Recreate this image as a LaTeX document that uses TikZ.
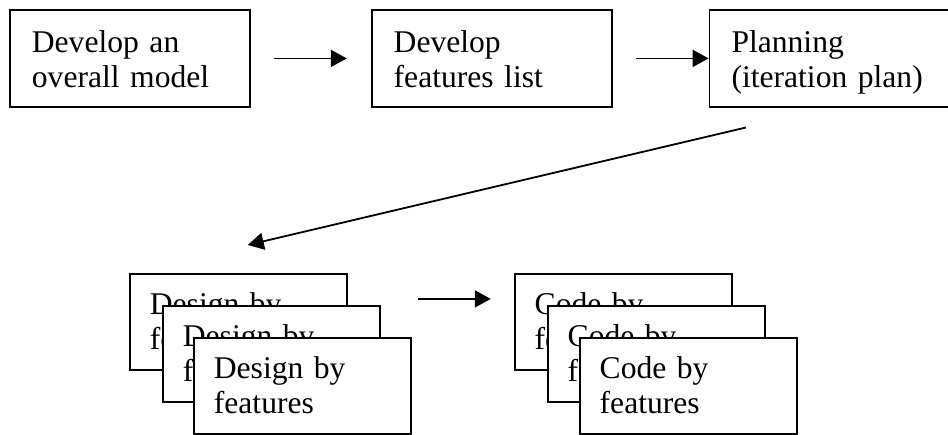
\documentclass[tikz,border=0pt]{standalone}
\usepackage{fontspec}
\setmainfont{Liberation Serif}
\usetikzlibrary{positioning}
\usetikzlibrary{arrows.meta}
\tikzset{stage/.style={draw, fill=white, line width=0.9pt, anchor=north west, align=left,
    inner ysep=0pt, inner xsep=11pt, text width=98pt, text height=21.5pt, text depth=27pt,
    font=\fontsize{15.8}{17.5}\selectfont}}
\tikzset{task/.style={stage, inner xsep=10pt, text width=88.5pt, text height=20.5pt, text depth=27.5pt}}
\tikzset{flow/.style={line width=0.9pt, -{Triangle[length=8pt,width=8.5pt]}}}

\begin{document}
\begin{tikzpicture}[x=0.5pt,y=-0.5pt]
\useasboundingbox (0,0) rectangle (948,434);
% first row
\node[stage] (model) at (9,9) {Develop an\\overall model};
\node[stage, right=60pt of model] (feats) {Develop\\features list};
\node[stage, right=48pt of feats] (plan) {Planning\\(iteration plan)};
% per feature, stacked
\node[task] (dsgA) at (129,273) {Design by\\features};
\node[task, xshift=16.5pt, yshift=-16pt] (dsgB) at (dsgA.north west) {Design by\\features};
\node[task, xshift=15.5pt, yshift=-16pt] (dsgC) at (dsgB.north west) {Design by\\features};
\node[task, right=83pt of dsgA] (codeA) {Code by\\features};
\node[task, xshift=16.5pt, yshift=-16pt] (codeB) at (codeA.north west) {Code by\\features};
\node[task, xshift=16pt, yshift=-16pt] (codeC) at (codeB.north west) {Code by\\features};
\draw[flow, shorten <=11.5pt, shorten >=12pt] (model) -- (feats);
\draw[flow, shorten <=11.5pt] (feats) -- (plan);
\draw[flow, shorten <=43pt, shorten >=61pt] (plan.south) -- (dsgA.north west);
\draw[flow, shorten <=35pt, shorten >=11.5pt] ([yshift=11.5pt]dsgA.east) -- ([yshift=11.5pt]codeA.west);
\end{tikzpicture}
\end{document}
